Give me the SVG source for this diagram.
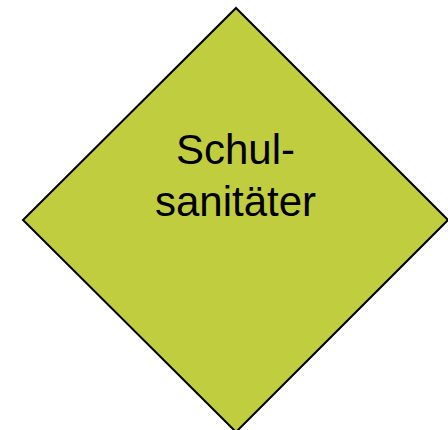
<svg xmlns="http://www.w3.org/2000/svg" width="448" height="430" viewBox="0 0 448 430">
<style>
.shape{fill:#c0cd3e;stroke:#000;stroke-width:2}
.lbl{font-family:"Liberation Sans",Arial,sans-serif;font-size:42px;fill:#000;text-anchor:middle}
</style>
<rect width="448" height="430" fill="#fff"/>
<g id="node-schulsanitaeter">
<polygon class="shape" points="236,8 448,220 236,432 23,220"/>
<text class="lbl" x="235.5" y="164">Schul-</text>
<text class="lbl" x="235.5" y="216">sanitäter</text>
</g>
<g id="connectors"></g>
</svg>
